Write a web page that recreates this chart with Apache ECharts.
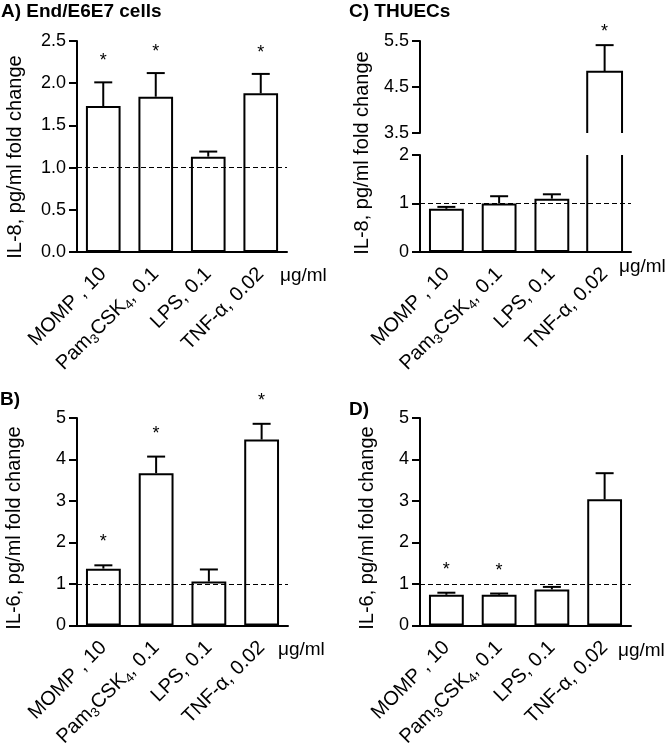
<!DOCTYPE html>
<html>
<head>
<meta charset="utf-8">
<script src="https://cdn.jsdelivr.net/npm/echarts@6/dist/echarts.min.js"></script>
<style>
  html, body { margin: 0; padding: 0; background: #fff; }
  #main { width: 666px; height: 751px; }
</style>
</head>
<body>
<div id="main"></div>
<script>
var categories = ['MOMP , 10', 'Pam3CSK4, 0.1', 'LPS, 0.1', 'TNF-α, 0.02'];

// A) End/E6E7 IL-8
var il8End = [1.73, 1.84, 1.13, 1.88];
var il8EndErr = [2.01, 2.12, 1.19, 2.11];
var il8EndSig = [1, 1, 0, 1];
// C) THUECs IL-8
var il8Thu = [0.89, 1.00, 1.10, 4.83];
var il8ThuErr = [0.93, 1.15, 1.19, 5.41];
var il8ThuSig = [0, 0, 0, 1];
// B) End/E6E7 IL-6
var il6End = [1.37, 3.67, 1.06, 4.48];
var il6EndErr = [1.45, 4.07, 1.35, 4.86];
var il6EndSig = [1, 1, 0, 1];
// D) THUECs IL-6
var il6Thu = [0.74, 0.74, 0.87, 3.04];
var il6ThuErr = [0.79, 0.77, 0.93, 3.67];
var il6ThuSig = [1, 1, 0, 0];

var FONT = "'Liberation Sans', Arial, sans-serif";
var chart = echarts.init(document.getElementById('main'));

function labelFmt(v) {
    if (v.indexOf('Pam3CSK4') === 0) {
        return '{a|Pam}{s|3}{a|CSK}{s|4}{a|' + v.substring(8) + '}';
    }
    return '{a|' + v + '}';
}

function xAxisOf(gi, show) {
    return {
        type: 'category', gridIndex: gi, data: categories, show: show,
        axisLine: { lineStyle: { color: '#000', width: 2 } },
        axisTick: { alignWithLabel: true, length: 8, lineStyle: { color: '#000', width: 2 } },
        axisLabel: {
            rotate: 45, margin: 19, color: '#000', fontFamily: FONT, fontSize: 20,
            formatter: labelFmt,
            rich: {
                a: { fontSize: 20, fontFamily: FONT, color: '#000', lineHeight: 24 },
                s: { fontSize: 13, fontFamily: FONT, color: '#000', lineHeight: 24, verticalAlign: 'bottom' }
            }
        }
    };
}

function yAxisOf(gi, min, max, interval, dec) {
    return {
        type: 'value', gridIndex: gi, min: min, max: max, interval: interval,
        splitLine: { show: false },
        axisLine: { show: true, lineStyle: { color: '#000', width: 2 } },
        axisTick: { show: true, length: 8, lineStyle: { color: '#000', width: 2 } },
        axisLabel: {
            color: '#000', fontFamily: FONT, fontSize: 18, margin: 11,
            formatter: function (v) { return dec ? v.toFixed(1) : String(v); }
        }
    };
}

function barSeries(gi, data) {
    return {
        type: 'bar', xAxisIndex: gi, yAxisIndex: gi, data: data, barWidth: '66%',
        itemStyle: { color: '#fff', borderColor: '#000', borderWidth: 2 },
        silent: true,
        markLine: {
            silent: true, symbol: 'none', label: { show: false },
            lineStyle: { color: '#000', type: [5, 3], width: 1 },
            data: [{ yAxis: 1 }]
        }
    };
}

// error whisker (upper half only) + significance star
function errSeries(gi, vals, errs, sigs, keep, starGap) {
    var data = [];
    for (var i = 0; i < vals.length; i++) {
        if (keep(vals[i])) data.push([i, vals[i], errs[i], sigs[i]]);
    }
    return {
        type: 'custom', xAxisIndex: gi, yAxisIndex: gi, data: data, silent: true, z: 5,
        renderItem: function (params, api) {
            var i = api.value(0);
            var p0 = api.coord([i, api.value(1)]);
            var p1 = api.coord([i, api.value(2)]);
            var st = { stroke: '#000', lineWidth: 2 };
            var kids = [
                { type: 'line', shape: { x1: p0[0], y1: p0[1], x2: p1[0], y2: p1[1] }, style: st },
                { type: 'line', shape: { x1: p1[0] - 9, y1: p1[1], x2: p1[0] + 9, y2: p1[1] }, style: st }
            ];
            if (api.value(3)) {
                kids.push({
                    type: 'text',
                    style: { text: '*', x: p1[0], y: p1[1] - starGap, align: 'center', verticalAlign: 'middle',
                             fontFamily: FONT, fontSize: 18, fill: '#000' }
                });
            }
            return { type: 'group', children: kids };
        }
    };
}

// broken bar for panel C (TNF-α): open top in lower grid, open bottom in upper grid
function brokenBar(gi, vals, upper) {
    var data = [];
    for (var i = 0; i < vals.length; i++) {
        if (vals[i] > 2) data.push([i, vals[i]]);
    }
    return {
        type: 'custom', xAxisIndex: gi, yAxisIndex: gi, data: data, silent: true, z: 3,
        renderItem: function (params, api) {
            var i = api.value(0);
            var w = api.size([1, 0])[0] * 0.66;
            var cs = params.coordSys;
            var cx = api.coord([i, 0])[0];
            var l = cx - w / 2, r = cx + w / 2;
            var st = { stroke: '#000', lineWidth: 2, fill: null };
            if (upper) {
                var ty = api.coord([i, api.value(1)])[1];
                var by = cs.y + cs.height;
                return { type: 'polyline', shape: { points: [[l, by], [l, ty], [r, ty], [r, by]] }, style: st };
            }
            return {
                type: 'group', children: [
                    { type: 'line', shape: { x1: l, y1: cs.y, x2: l, y2: cs.y + cs.height }, style: st },
                    { type: 'line', shape: { x1: r, y1: cs.y, x2: r, y2: cs.y + cs.height }, style: st }
                ]
            };
        }
    };
}

function txt(x, y, s, size, bold, rot) {
    return {
        type: 'text', x: x, y: y, rotation: rot || 0,
        style: { text: s, fontFamily: FONT, fontSize: size, fontWeight: bold ? 'bold' : 'normal', fill: '#000',
                 align: rot ? 'center' : 'left', verticalAlign: rot ? 'middle' : 'top' }
    };
}

var lowerC = function (v) { return v <= 2; };
var upperC = function (v) { return v > 2; };
var all = function () { return true; };

var option = {
    backgroundColor: '#fff',
    animation: false,
    grid: [
        { left: 77, top: 41, width: 210, height: 211 },   // A
        { left: 420, top: 155, width: 211, height: 97 },  // C lower
        { left: 420, top: 41, width: 211, height: 92 },   // C upper
        { left: 77, top: 418, width: 211, height: 210 },  // B
        { left: 420, top: 418, width: 211, height: 210 }  // D
    ],
    xAxis: [xAxisOf(0, true), xAxisOf(1, true), xAxisOf(2, false), xAxisOf(3, true), xAxisOf(4, true)],
    yAxis: [
        yAxisOf(0, 0, 2.5, 0.5, true),
        yAxisOf(1, 0, 2, 1, false),
        yAxisOf(2, 3.5, 5.5, 1, true),
        yAxisOf(3, 0, 5, 1, false),
        yAxisOf(4, 0, 5, 1, false)
    ],
    series: [
        barSeries(0, il8End),
        errSeries(0, il8End, il8EndErr, il8EndSig, all, 21),
        barSeries(1, il8Thu.map(function (v) { return v > 2 ? '-' : v; })),
        errSeries(1, il8Thu, il8ThuErr, il8ThuSig, lowerC, 21),
        brokenBar(1, il8Thu, false),
        brokenBar(2, il8Thu, true),
        errSeries(2, il8Thu, il8ThuErr, il8ThuSig, upperC, 13),
        barSeries(3, il6End),
        errSeries(3, il6End, il6EndErr, il6EndSig, all, 23),
        barSeries(4, il6Thu),
        errSeries(4, il6Thu, il6ThuErr, il6ThuSig, all, 23)
    ],
    graphic: [
        txt(1, 2, 'A) End/E6E7 cells', 19, true),
        txt(349, 2, 'C) THUECs', 19, true),
        txt(0, 390, 'B)', 19, true),
        txt(349, 400, 'D)', 19, true),
        // y-axis titles
        txt(15, 157, 'IL-8, pg/ml fold change', 20, false, Math.PI / 2),
        txt(362, 153, 'IL-8, pg/ml fold change', 20, false, Math.PI / 2),
        txt(14, 528, 'IL-6, pg/ml fold change', 20, false, Math.PI / 2),
        txt(367, 528, 'IL-6, pg/ml fold change', 20, false, Math.PI / 2),
        // unit labels
        txt(280, 266, 'μg/ml', 19, false),
        txt(619, 257, 'μg/ml', 19, false),
        txt(278, 640, 'μg/ml', 19, false),
        txt(618, 641, 'μg/ml', 19, false)
    ]
};

chart.setOption(option);
</script>
</body>
</html>
